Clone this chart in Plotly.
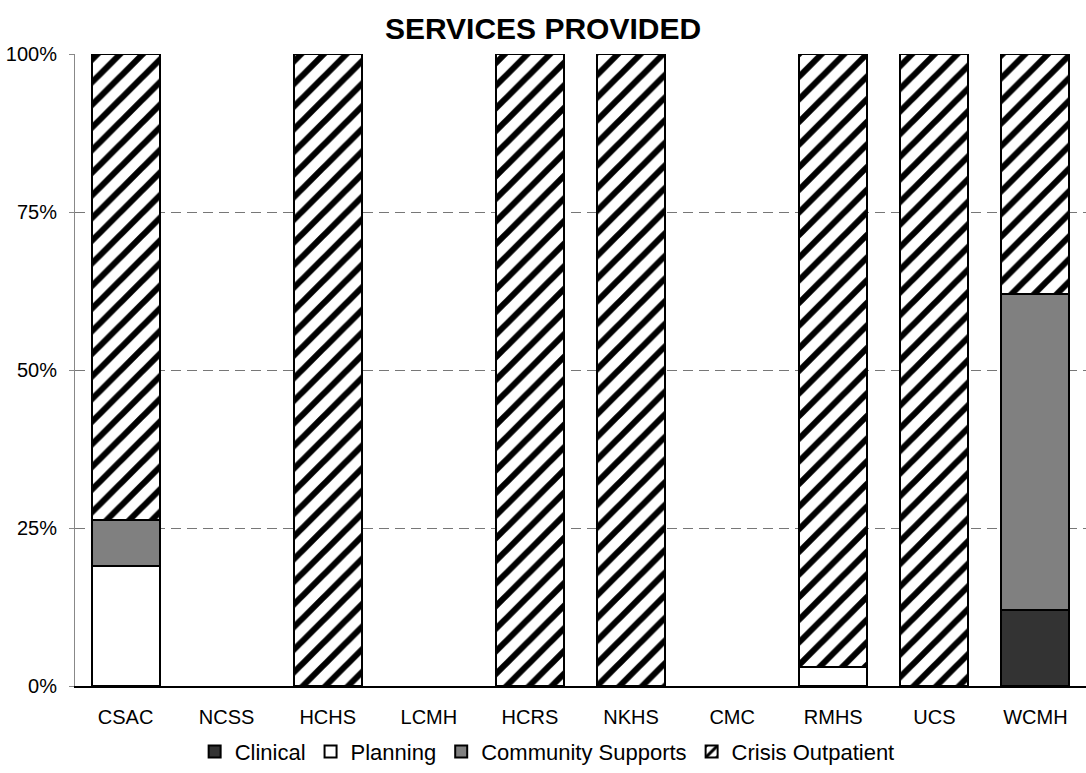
import plotly.graph_objects as go

categories = ["CSAC", "NCSS", "HCHS", "LCMH", "HCRS", "NKHS", "CMC", "RMHS", "UCS", "WCMH"]
clinical = [None, None, None, None, None, None, None, None, None, 12]
planning = [19, None, None, None, None, None, None, 3, None, None]
community = [7.2, None, None, None, None, None, None, None, None, 50]
crisis = [73.8, None, 100, None, 100, 100, None, 97, 100, 38]
y_ticks = [0, 25, 50, 75, 100]
y_labels = ["0%", "25%", "50%", "75%", "100%"]

FONT = "Liberation Sans, Arial, sans-serif"
line = dict(color="black", width=2)

fig = go.Figure()
fig.add_bar(name="Clinical", x=categories, y=clinical,
            marker=dict(color="#333333", line=line))
fig.add_bar(name="Planning", x=categories, y=planning,
            marker=dict(color="white", line=line))
fig.add_bar(name="Community Supports", x=categories, y=community,
            marker=dict(color="#808080", line=line))
fig.add_bar(name="Crisis Outpatient", x=categories, y=crisis,
            marker=dict(color="white", line=line,
                        pattern=dict(shape="/", fgcolor="black", bgcolor="white",
                                     fgopacity=1, size=16, solidity=0.38,
                                     fillmode="replace")))

fig.update_layout(
    width=1086, height=773,
    barmode="stack", bargap=0.327,
    paper_bgcolor="white", plot_bgcolor="white",
    margin=dict(l=75, r=0, t=54, b=87),
    font=dict(family=FONT, color="black", size=20),
    title=dict(text="<b>SERVICES PROVIDED</b>", x=0.5, xanchor="center",
               y=0.963, yanchor="middle", font=dict(size=30, family=FONT)),
    legend=dict(orientation="h", x=0.467, xanchor="center", y=-0.104, yanchor="middle",
                traceorder="normal", font=dict(size=22, family=FONT),
                itemwidth=30, bgcolor="rgba(0,0,0,0)"),
    showlegend=True,
)
fig.update_xaxes(showline=True, linecolor="black", linewidth=2, ticks="",
                 showgrid=False, tickfont=dict(size=20), ticklabelstandoff=12)
fig.update_yaxes(range=[0, 100], tickvals=y_ticks, ticktext=y_labels,
                 showline=True, linecolor="#888888", linewidth=1,
                 ticks="outside", ticklen=5, tickcolor="#888888",
                 showgrid=True, gridcolor="#777777", gridwidth=1, griddash="10px,6px",
                 zeroline=False, tickfont=dict(size=20), ticklabelstandoff=8)

fig.write_html("out.html", config={"displayModeBar": False},
               post_script="document.body.style.margin='0px';")
